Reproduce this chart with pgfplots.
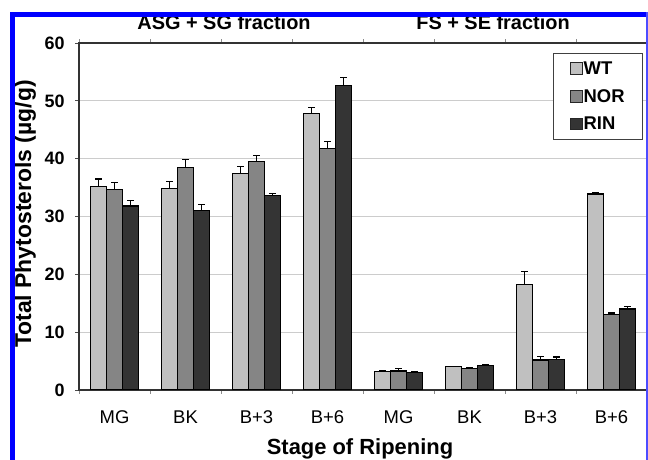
\documentclass[border=0pt]{standalone}
\usepackage{pgfplots}
\pgfplotsset{compat=1.18}
\usepackage{fontspec}
\setmainfont{Liberation Sans}
\definecolor{wtc}{RGB}{192,192,192}
\definecolor{norc}{RGB}{133,133,133}
\definecolor{rinc}{RGB}{52,52,52}
\definecolor{framec}{RGB}{0,0,255}
\begin{document}
\begin{tikzpicture}
\useasboundingbox (0,0) rectangle (648bp,460bp);
\begin{axis}[
  at={(79bp,70bp)}, anchor=south west, scale only axis,
  width=568bp, height=347bp,
  xmin=0, xmax=8, ymin=0, ymax=60,
  ybar, bar width=16bp,
  /pgf/number format/assume math mode=true,
  xtick={0.5,1.5,2.5,3.5,4.5,5.5,6.5,7.5},
  xticklabels={MG,BK,B+3,B+6,MG,BK,B+3,B+6},
  minor xtick={0,1,2,3,4,5,6,7,8},
  ytick={0,10,20,30,40,50,60},
  ymajorgrids,
  grid style={draw=black!20, line width=1bp},
  tick align=outside,
  xtick style={draw=none},
  minor x tick style={draw=black!45, line width=0.6bp},
  minor tick length=4bp,
  ytick style={draw=black!70, line width=0.8bp},
  major tick length=4bp,
  axis line style={draw=black!80, line width=1.3bp},
  xticklabel style={font=\fontsize{18.5}{20}\selectfont, yshift=-13bp},
  yticklabel style={font=\fontsize{18}{20}\selectfont\bfseries, xshift=-7bp},
  legend style={at={(0.993,0.971)}, anchor=north east, draw=black!75,
    line width=0.8bp, font=\fontsize{18.5}{20}\selectfont\bfseries,
    inner xsep=17bp, inner ysep=7bp, row sep=11.5bp,
    nodes={inner sep=1bp}},
  legend cell align=left,
  legend image code/.code={\draw[#1, draw=black!85, line width=0.8bp] (0bp,-5.8bp) rectangle (11.5bp,5.8bp);},
]
\addplot[fill=wtc, draw=black, line width=1.2bp, bar shift=-16bp,
  error bars/.cd, y dir=plus, y explicit,
  error bar style={line width=1.3bp, black},
  error mark options={rotate=90, black, line width=1.3bp, mark size=3.5bp}]
coordinates {(0.5,35.2) +- (0,1.3) (1.5,34.8) +- (0,1.3) (2.5,37.4) +- (0,1.3) (3.5,47.8) +- (0,1.0)
  (4.5,3.2) +- (0,0.1) (5.5,4.0) +- (0,0.1) (6.5,18.2) +- (0,2.3) (7.5,33.9) +- (0,0.2)};
\addplot[fill=norc, draw=black, line width=1.2bp, bar shift=0bp,
  error bars/.cd, y dir=plus, y explicit,
  error bar style={line width=1.3bp, black},
  error mark options={rotate=90, black, line width=1.3bp, mark size=3.5bp}]
coordinates {(0.5,34.6) +- (0,1.3) (1.5,38.5) +- (0,1.3) (2.5,39.5) +- (0,1.0) (3.5,41.7) +- (0,1.3)
  (4.5,3.3) +- (0,0.4) (5.5,3.75) +- (0,0.15) (6.5,5.2) +- (0,0.6) (7.5,13.1) +- (0,0.2)};
\addplot[fill=rinc, draw=black, line width=1.2bp, bar shift=16bp,
  error bars/.cd, y dir=plus, y explicit,
  error bar style={line width=1.3bp, black},
  error mark options={rotate=90, black, line width=1.3bp, mark size=3.5bp}]
coordinates {(0.5,31.8) +- (0,1.0) (1.5,31.0) +- (0,1.1) (2.5,33.6) +- (0,0.4) (3.5,52.6) +- (0,1.4)
  (4.5,3.0) +- (0,0.1) (5.5,4.2) +- (0,0.2) (6.5,5.3) +- (0,0.4) (7.5,14.0) +- (0,0.4)};
\legend{WT,NOR,RIN}
\end{axis}
\node[font=\fontsize{20}{24}\selectfont\bfseries, anchor=base] at (224bp,430bp) {ASG + SG fraction};
\node[font=\fontsize{20}{24}\selectfont\bfseries, anchor=base] at (493bp,430bp) {FS + SE fraction};
\node[font=\fontsize{22}{26}\selectfont\bfseries, anchor=base] at (360bp,6bp) {Stage of Ripening};
\node[font=\fontsize{23}{26}\selectfont\bfseries, anchor=base, rotate=90] at (31bp,246bp) {Total Phytosterols (µg/g)};
\fill[framec] (10bp,0bp) rectangle (15bp,447.7bp);
\fill[framec] (10bp,443.3bp) rectangle (648bp,447.7bp);
\fill[framec!70] (646bp,0bp) rectangle (648bp,447.7bp);
\end{tikzpicture}
\end{document}
